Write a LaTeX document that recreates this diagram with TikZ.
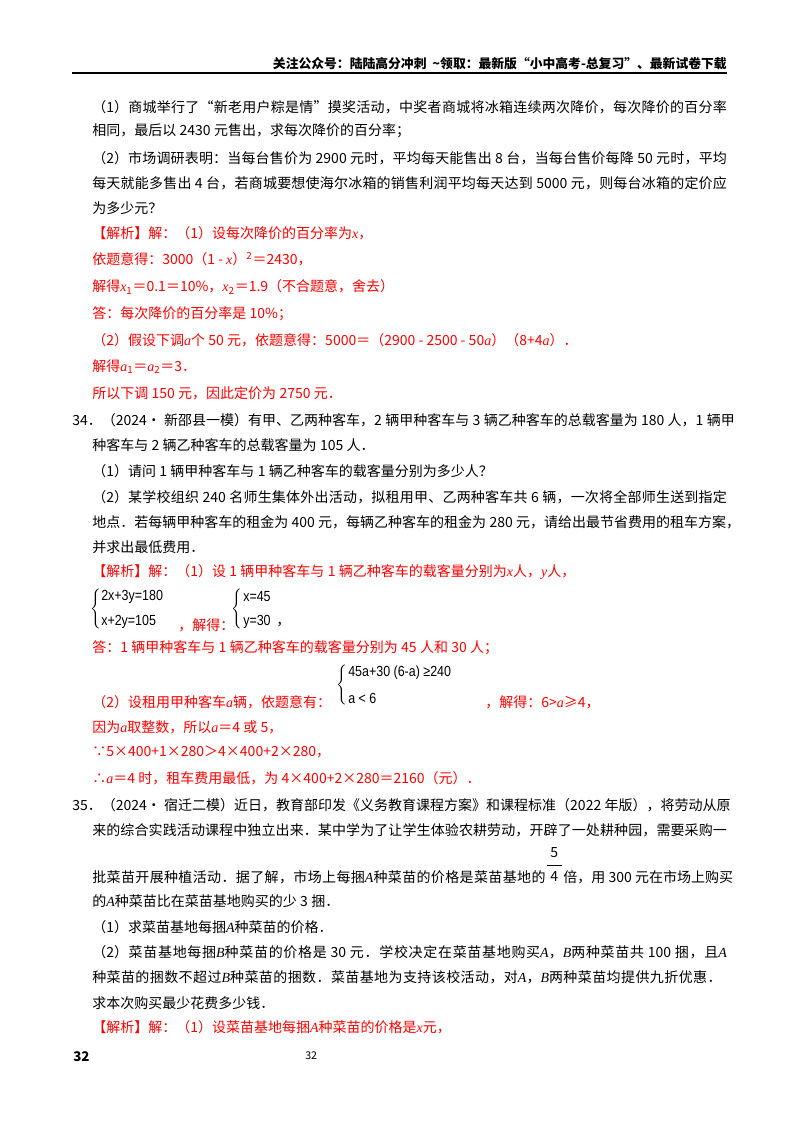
\documentclass[tikz,border=0pt]{standalone}
\usepackage{fontspec}
\setmainfont{Noto Sans CJK SC}
\newfontfamily\tnr{Liberation Serif}
\newfontfamily\eqf{Liberation Sans}[FakeStretch=0.85]
\newcount\cc
\cc="4E00 \loop \XeTeXcharclass\cc=1 \advance\cc 1 \ifnum\cc<"A000 \repeat
\cc="3000 \loop \XeTeXcharclass\cc=2 \advance\cc 1 \ifnum\cc<"3040 \repeat
\cc="FF00 \loop \XeTeXcharclass\cc=2 \advance\cc 1 \ifnum\cc<"FFF0 \repeat
\XeTeXcharclass"201C=2 \XeTeXcharclass"201D=2 \XeTeXcharclass"2235=2 \XeTeXcharclass"2234=2
\XeTeXinterchartokenstate=1
\XeTeXinterchartoks 1 1 = {\hskip 0pt plus 3pt\relax}
\XeTeXinterchartoks 1 2 = {\hskip 0pt plus 3pt\relax}
\XeTeXinterchartoks 2 1 = {\hskip 0pt plus 3pt\relax}
\XeTeXinterchartoks 2 2 = {\hskip 0pt plus 3pt\relax}
\XeTeXinterchartoks 1 0 = {\hskip 2.5pt plus 2pt\relax}
\XeTeXinterchartoks 0 1 = {\hskip 2.5pt plus 2pt\relax}
\newcommand\mi[1]{{\tnr\itshape #1}}
\definecolor{ansred}{RGB}{255,0,0}
\tikzset{ln/.style={anchor=west,inner sep=0pt,font=\fontsize{10.5pt}{12pt}\selectfont},
 red/.style={text=ansred},
 eq/.style={anchor=west,inner sep=0pt,font=\eqf\fontsize{11pt}{12pt}\selectfont}}
\newcommand\J[2]{\hbox to #1{#2}}
\begin{document}
\begin{tikzpicture}[x=0.75pt,y=-0.75pt]
\useasboundingbox (0,0) rectangle (800,1132);
\node[anchor=east,inner sep=0pt,font=\fontsize{9.6pt}{11pt}\selectfont\bfseries] (hd) at (727,64) {\XeTeXinterchartokenstate=0 关注公众号：陆陆高分冲刺\ \ \textasciitilde 领取：最新版“小中高考-总复习”、最新试卷下载};
\coordinate (h1) at (72,73); \coordinate (h2) at (727,73);
\draw[line width=1.4pt] (h1) -- (h2);
\node[ln] (l1) at (92,107) {\J{476pt}{（1）商城举行了“新老用户粽是情”摸奖活动，中奖者商城将冰箱连续两次降价，每次降价的百分率}};
\node[ln] (l2) at (92,131) {相同，最后以2430元售出，求每次降价的百分率；};
\node[ln] (l3) at (92,158) {\J{476pt}{（2）市场调研表明：当每台售价为2900元时，平均每天能售出8台，当每台售价每降50元时，平均}};
\node[ln] (l4) at (92,183) {\J{476pt}{每天就能多售出4台，若商城要想使海尔冰箱的销售利润平均每天达到5000元，则每台冰箱的定价应}};
\node[ln] (l5) at (92,208) {为多少元？};
\node[ln,red] (l6) at (92,233) {【解析】解：（1）设每次降价的百分率为\mi{x}，};
\node[ln,red] (l7) at (92,259) {依题意得：3000（1 - \mi{x}）\textsuperscript{2}＝2430，};
\node[ln,red] (l8) at (92,287) {解得\mi{x}\textsubscript{1}＝0.1＝10\%，\mi{x}\textsubscript{2}＝1.9（不合题意，舍去）};
\node[ln,red] (l9) at (92,314) {答：每次降价的百分率是10\%；};
\node[ln,red] (l10) at (92,340) {（2）假设下调\mi{a}个50元，依题意得：5000＝（2900 - 2500 - 50\mi{a}）（8+4\mi{a}）．};
\node[ln,red] (l11) at (92,367) {解得\mi{a}\textsubscript{1}＝\mi{a}\textsubscript{2}＝3．};
\node[ln,red] (l12) at (92,393) {所以下调150元，因此定价为2750元．};
\node[ln] (l13) at (72,420) {\J{491pt}{34．（2024•新邵县一模）有甲、乙两种客车，2辆甲种客车与3辆乙种客车的总载客量为180人，1辆甲}};
\node[ln] (l14) at (92,445) {种客车与2辆乙种客车的总载客量为105人．};
\node[ln] (l15) at (92,471) {（1）请问1辆甲种客车与1辆乙种客车的载客量分别为多少人？};
\node[ln] (l16) at (92,497) {\J{476pt}{（2）某学校组织240名师生集体外出活动，拟租用甲、乙两种客车共6辆，一次将全部师生送到指定}};
\node[ln] (l17) at (92,522) {\J{484pt}{地点．若每辆甲种客车的租金为400元，每辆乙种客车的租金为280元，请给出最节省费用的租车方案，}};
\node[ln] (l18) at (92,547) {并求出最低费用．};
\node[ln,red] (l19) at (92,572) {【解析】解：（1）设1辆甲种客车与1辆乙种客车的载客量分别为\mi{x}人，\mi{y}人，};
\node[inner sep=0pt] (b1) at (97,610) {$\left\{\vrule height 14pt depth 14pt width 0pt\right.$};
\node[eq] (s1) at (101,597) {2x+3y=180};
\node[eq] (s2) at (101,622) {x+2y=105};
\node[ln,red] (s3) at (178,625) {，解得：};
\node[inner sep=0pt] (b2) at (238,610) {$\left\{\vrule height 14pt depth 14pt width 0pt\right.$};
\node[eq] (s4) at (243,597) {x=45};
\node[eq] (s5) at (243,622) {y=30};
\node[ln] (s6) at (276,625) {，};
\node[ln,red] (l20) at (92,648) {答：1辆甲种客车与1辆乙种客车的载客量分别为45人和30人；};
\node[ln,red] (l21) at (92,702) {（2）设租用甲种客车\mi{a}辆，依题意有：};
\node[inner sep=0pt] (b3) at (343,686) {$\left\{\vrule height 14pt depth 14pt width 0pt\right.$};
\node[eq] (s7) at (348,673) {45a+30 (6-a) ≥240};
\node[eq] (s8) at (348,698) {a < 6};
\node[ln,red] (s9) at (485,702) {，解得：6>\mi{a}≥4，};
\node[ln,red] (l22) at (92,727) {因为\mi{a}取整数，所以\mi{a}＝4或5，};
\node[ln,red] (l23) at (92,752) {∵5×400+1×280＞4×400+2×280，};
\node[ln,red] (l24) at (92,778) {∴\mi{a}＝4时，租车费用最低，为4×400+2×280＝2160（元）．};
\node[ln] (l25) at (72,805) {\J{491pt}{35．（2024•宿迁二模）近日，教育部印发《义务教育课程方案》和课程标准（2022年版），将劳动从原}};
\node[ln] (l26) at (92,830) {\J{476pt}{来的综合实践活动课程中独立出来．某中学为了让学生体验农耕劳动，开辟了一处耕种园，需要采购一}};
\node[ln] (l27) at (92,877) {\J{340pt}{批菜苗开展种植活动．据了解，市场上每捆\mi{A}种菜苗的价格是菜苗基地的}};
\node[ln] (f5) at (550,853) {5};
\coordinate (fb1) at (547,865); \coordinate (fb2) at (562,865);
\draw[line width=0.6pt] (fb1) -- (fb2);
\node[ln] (f4) at (550,876) {4};
\node[ln] (l27b) at (563,877) {\J{123pt}{倍，用300元在市场上购买}};
\node[ln] (l28) at (92,901) {的\mi{A}种菜苗比在菜苗基地购买的少3捆．};
\node[ln] (l29) at (92,927) {（1）求菜苗基地每捆\mi{A}种菜苗的价格．};
\node[ln] (l30) at (92,952) {\J{476pt}{（2）菜苗基地每捆\mi{B}种菜苗的价格是30元．学校决定在菜苗基地购买\mi{A}，\mi{B}两种菜苗共100捆，且\mi{A}}};
\node[ln] (l31) at (92,977) {\J{472pt}{种菜苗的捆数不超过\mi{B}种菜苗的捆数．菜苗基地为支持该校活动，对\mi{A}，\mi{B}两种菜苗均提供九折优惠．}};
\node[ln] (l32) at (92,1003) {求本次购买最少花费多少钱．};
\node[ln,red] (l33) at (92,1027) {【解析】解：（1）设菜苗基地每捆\mi{A}种菜苗的价格是\mi{x}元，};
\node[ln,font=\fontsize{10pt}{12pt}\selectfont\bfseries] (p1) at (73,1057) {32};
\node[ln,font=\fontsize{8pt}{10pt}\selectfont] (p2) at (305,1056) {32};
\end{tikzpicture}
\end{document}
